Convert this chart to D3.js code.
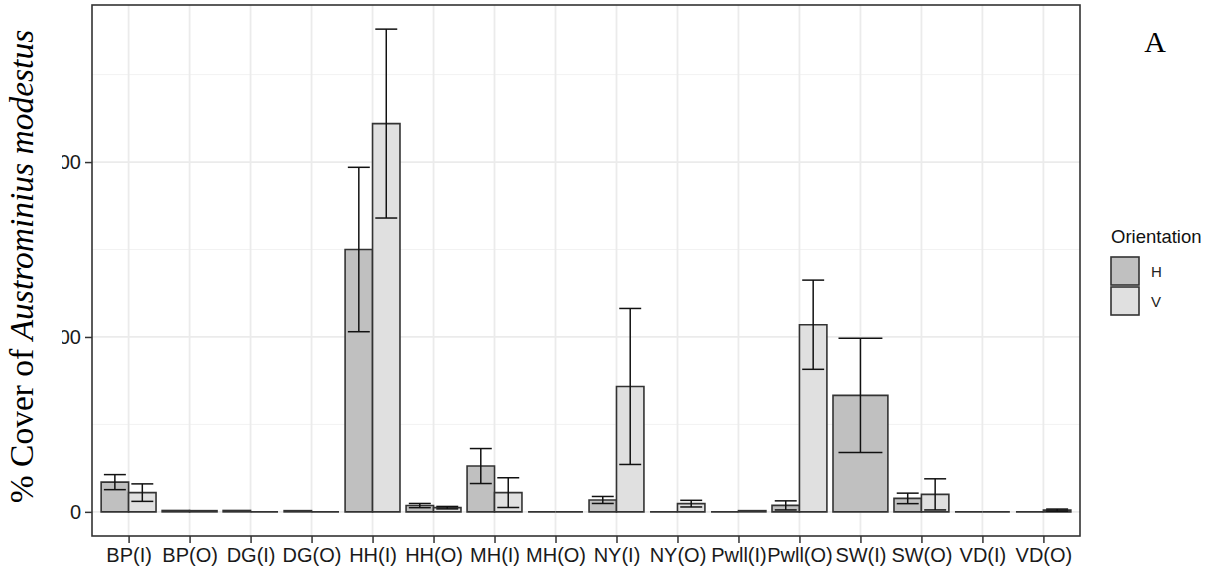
<!DOCTYPE html>
<html>
<head>
<meta charset="utf-8">
<script src="https://cdn.jsdelivr.net/npm/d3@7/dist/d3.min.js"></script>
<style>
  body { margin: 0; background: #fff; }
  svg { display: block; }
</style>
</head>
<body>
<svg id="chart" width="1212" height="574"></svg>
<script>
// Sites (I = inside, O = outside)
let categories = ["BP(I)", "BP(O)", "DG(I)", "DG(O)", "HH(I)", "HH(O)", "MH(I)", "MH(O)",
                  "NY(I)", "NY(O)", "Pwll(I)", "Pwll(O)", "SW(I)", "SW(O)", "VD(I)", "VD(O)"];
let orientations = ["H", "V"];

// Mean cover and standard error, horizontal panels
let hMean = [17, 0.8, 0.8, 0.7, 150, 3.6, 26.2, 0, 6.8, 0, 0, 3.7, 66.6, 7.7, 0, 0];
let hSe   = [4.3, 0, 0, 0, 47, 1.2, 10, 0, 2, 0, 0, 2.6, 32.7, 3, 0, 0];
// vertical panels (SW(I) has no vertical sample)
let vMean = [11, 0.7, 0, 0, 222, 2.4, 11, 0, 71.7, 4.7, 0.7, 107, null, 10, 0, 1];
let vSe   = [5, 0, 0, 0, 54, 0.7, 8.5, 0, 44.6, 1.9, 0, 25.5, null, 8.9, 0, 0.6];

let yTicks = [0, 100, 200];
let yMinor = [50, 150, 250];

let fills = { H: "#c0c0c0", V: "#e0e0e0" };

let svg = d3.select("#chart");
let panel = { left: 92, right: 1080, top: 5, bottom: 536 };

// ggplot style expansion
let dataMax = d3.max(categories.map((c, i) => Math.max(hMean[i] + hSe[i], (vMean[i] || 0) + (vSe[i] || 0))));
let pad = dataMax * 0.05;
let y = d3.scaleLinear()
    .domain([-pad, dataMax + pad])
    .range([panel.bottom, panel.top]);

let x = d3.scalePoint()
    .domain(categories)
    .range([panel.left, panel.right])
    .padding(0.6);
let step = x.step();
let groupWidth = step * 0.9;

// Build rows
let rows = [];
categories.forEach((c, i) => {
    let present = [];
    if (hMean[i] !== null) present.push({ o: "H", mean: hMean[i], se: hSe[i] });
    if (vMean[i] !== null) present.push({ o: "V", mean: vMean[i], se: vSe[i] });
    let w = groupWidth / present.length;
    present.forEach((p, j) => {
        rows.push({
            cat: c, o: p.o, mean: p.mean, se: p.se,
            x0: x(c) - groupWidth / 2 + j * w, w: w
        });
    });
});

// Grid
let grid = svg.append("g");
grid.selectAll("line.minor")
    .data(yMinor)
    .enter()
    .append("line")
    .attr("x1", panel.left).attr("x2", panel.right)
    .attr("y1", d => y(d)).attr("y2", d => y(d))
    .attr("stroke", "#f2f2f2").attr("stroke-width", 1);
grid.selectAll("line.major")
    .data(yTicks)
    .enter()
    .append("line")
    .attr("x1", panel.left).attr("x2", panel.right)
    .attr("y1", d => y(d)).attr("y2", d => y(d))
    .attr("stroke", "#ebebeb").attr("stroke-width", 1.8);
grid.selectAll("line.vx")
    .data(categories)
    .enter()
    .append("line")
    .attr("x1", d => x(d)).attr("x2", d => x(d))
    .attr("y1", panel.top).attr("y2", panel.bottom)
    .attr("stroke", "#ebebeb").attr("stroke-width", 1.8);

// Bars (paths so that zero-height bars still show their outline)
svg.append("g")
    .selectAll("path")
    .data(rows)
    .enter()
    .append("path")
    .attr("d", d => {
        let x0 = d.x0, x1 = d.x0 + d.w, y0 = y(0), y1 = y(d.mean);
        return `M${x0},${y0}L${x0},${y1}L${x1},${y1}L${x1},${y0}Z`;
    })
    .attr("fill", d => fills[d.o])
    .attr("stroke", "#333")
    .attr("stroke-width", 1.6);

// Error bars
let eb = svg.append("g")
    .attr("stroke", "#111")
    .attr("stroke-width", 1.5)
    .selectAll("g")
    .data(rows.filter(d => d.se > 0))
    .enter()
    .append("g");
eb.append("line")
    .attr("x1", d => d.x0 + d.w / 2).attr("x2", d => d.x0 + d.w / 2)
    .attr("y1", d => y(d.mean + d.se)).attr("y2", d => y(d.mean - d.se));
eb.append("line")
    .attr("x1", d => d.x0 + d.w * 0.1).attr("x2", d => d.x0 + d.w * 0.9)
    .attr("y1", d => y(d.mean + d.se)).attr("y2", d => y(d.mean + d.se));
eb.append("line")
    .attr("x1", d => d.x0 + d.w * 0.1).attr("x2", d => d.x0 + d.w * 0.9)
    .attr("y1", d => y(d.mean - d.se)).attr("y2", d => y(d.mean - d.se));

// Panel border
svg.append("rect")
    .attr("x", panel.left).attr("y", panel.top)
    .attr("width", panel.right - panel.left).attr("height", panel.bottom - panel.top)
    .attr("fill", "none").attr("stroke", "#333").attr("stroke-width", 1.6);

// Axes
let xAxis = svg.append("g")
    .attr("transform", `translate(0,${panel.bottom})`)
    .call(d3.axisBottom(x).tickSize(7).tickPadding(5));
let yAxis = svg.append("g")
    .attr("transform", `translate(${panel.left},0)`)
    .call(d3.axisLeft(y).tickValues(yTicks).tickSize(7).tickPadding(4));
[xAxis, yAxis].forEach(a => {
    a.select(".domain").remove();
    a.selectAll(".tick line").attr("stroke", "#333").attr("stroke-width", 1.5);
    a.selectAll("text")
        .attr("fill", "#1a1a1a")
        .style("font-family", "Liberation Sans, Arial, sans-serif")
        .style("font-size", "20px");
});

// White strip behind the y title (hides the start of the tick labels)
svg.append("rect")
    .attr("x", 0).attr("y", 0)
    .attr("width", 62).attr("height", 574)
    .attr("fill", "#fff");

let yTitle = svg.append("text")
    .attr("transform", `translate(33,${(panel.top + panel.bottom) / 2 - 4}) rotate(-90)`)
    .attr("text-anchor", "middle")
    .style("font-family", "Liberation Serif, Times New Roman, serif")
    .style("font-size", "33.5px")
    .attr("fill", "#000");
yTitle.append("tspan").text("% Cover of ");
yTitle.append("tspan").style("font-style", "italic").text("Austrominius modestus");

// Panel tag
svg.append("text")
    .attr("x", 1155).attr("y", 52)
    .attr("text-anchor", "middle")
    .style("font-family", "Liberation Serif, Times New Roman, serif")
    .style("font-size", "30px")
    .text("A");

// Legend
let legend = svg.append("g").attr("transform", "translate(1111,0)");
legend.append("text")
    .attr("x", 0).attr("y", 243)
    .style("font-family", "Liberation Sans, Arial, sans-serif")
    .style("font-size", "18.5px")
    .attr("fill", "#111")
    .text("Orientation");
let keys = legend.selectAll("g.key")
    .data(orientations)
    .enter()
    .append("g")
    .attr("transform", (d, i) => `translate(0,${257 + i * 30})`);
keys.append("rect")
    .attr("width", 28).attr("height", 28)
    .attr("fill", d => fills[d])
    .attr("stroke", "#333").attr("stroke-width", 1.6);
keys.append("text")
    .attr("x", 40).attr("y", 20)
    .style("font-family", "Liberation Sans, Arial, sans-serif")
    .style("font-size", "15px")
    .attr("fill", "#222")
    .text(d => d);
</script>
</body>
</html>
